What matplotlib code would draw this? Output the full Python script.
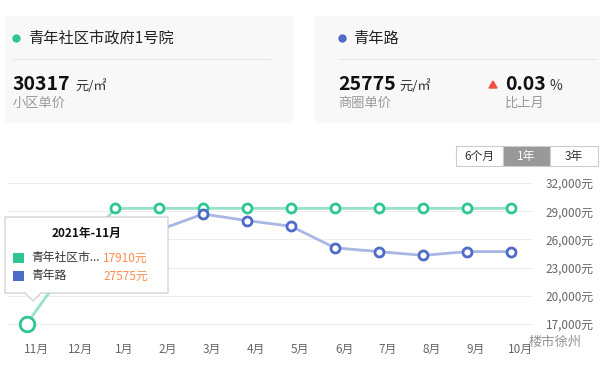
import matplotlib
matplotlib.use('Agg')
import matplotlib.pyplot as plt
import matplotlib.transforms as mtransforms
from matplotlib.patches import Rectangle, Polygon

plt.rcParams['font.family'] = ['Noto Sans CJK SC', 'DejaVu Sans']

# data
months = ['11月', '12月', '1月', '2月', '3月', '4月', '5月', '6月', '7月', '8月', '9月', '10月']
community = [17050, 23600, 29300, 29300, 29300, 29300, 29300, 29300, 29300, 29300, 29300, 29300]
district = [27575, 27200, 27000, 27000, 28700, 28000, 27400, 25100, 24700, 24300, 24700, 24700]
yticks = [17000, 20000, 23000, 26000, 29000, 32000]
ytick_labels = ['17,000元', '20,000元', '23,000元', '26,000元', '29,000元', '32,000元']
ranges = ['6个月', '1年', '3年']

GREEN = '#2ec793'
GREEN_L = '#98e3c6'
BLUE = '#4f6bc8'
BLUE_L = '#a9b6e6'

W, H = 608, 369
fig = plt.figure(figsize=(W / 100, H / 100), dpi=100)

def px(x, y):
    return x / W, 1 - y / H

def ftext(x, y, s, **kw):
    fig.text(x / W, 1 - y / H, s, **kw)

def fdot(x, y, c):
    fig.add_artist(plt.Line2D([x / W], [1 - y / H], marker='o', ms=5, color=c, ls='none', zorder=2))

# top cards
for x0, x1 in [(5, 293), (315, 600)]:
    fig.add_artist(Rectangle(px(x0, 123), (x1 - x0) / W, 107 / H, transform=fig.transFigure,
                             facecolor='#f8f8f8', edgecolor='none', zorder=0))

fdot(16, 38, GREEN)
ftext(28, 38, '青年社区市政府1号院', fontsize=11, color='#222', va='center')
fig.add_artist(plt.Line2D([13 / W, 270 / W], [1 - 59 / H] * 2, color='#e6e6e6', lw=0.8))
ftext(13, 84, '30317', fontsize=14, fontweight='bold', color='#111', va='center')
ftext(75, 86, '元/㎡', fontsize=9.5, color='#333', va='center')
ftext(13, 103, '小区单价', fontsize=9.5, color='#999', va='center')

fdot(342, 38, BLUE)
ftext(353, 38, '青年路', fontsize=11, color='#222', va='center')
fig.add_artist(plt.Line2D([338 / W, 595 / W], [1 - 59 / H] * 2, color='#e6e6e6', lw=0.8))
ftext(338, 84, '25775', fontsize=14, fontweight='bold', color='#111', va='center')
ftext(399, 86, '元/㎡', fontsize=9.5, color='#333', va='center')
ftext(338, 103, '商圈单价', fontsize=9.5, color='#999', va='center')
fig.add_artist(Polygon([px(489, 88), px(497, 88), px(493, 81)], closed=True,
                       transform=fig.transFigure, color='#f0523e'))
ftext(505, 84, '0.03', fontsize=14, fontweight='bold', color='#111', va='center')
ftext(550, 86, '%', fontsize=10, color='#333', va='center')
ftext(505, 103, '比上月', fontsize=9.5, color='#999', va='center')

# range buttons
bx = [456, 503, 550, 598]
for i, lab in enumerate(ranges):
    active = lab == '1年'
    fig.add_artist(Rectangle(px(bx[i], 166), (bx[i + 1] - bx[i]) / W, 20 / H, transform=fig.transFigure,
                             facecolor='#999999' if active else 'white', edgecolor='#cccccc', lw=0.8))
    ftext((bx[i] + bx[i + 1]) / 2, 156, lab, fontsize=8.5, ha='center', va='center',
          color='white' if active else '#333')

# chart
ax_l, ax_r, ax_t, ax_b = 8, 533, 170, 335
ax = fig.add_axes([ax_l / W, 1 - ax_b / H, (ax_r - ax_l) / W, (ax_b - ax_t) / H])
x = list(range(len(months)))
ax.plot(x, community, color=GREEN_L, lw=2, zorder=3)
ax.plot(x[1:], community[1:], ls='none', marker='o', ms=6.5, mfc='white', mec=GREEN, mew=2, zorder=4)
ax.plot(x[:1], community[:1], ls='none', marker='o', ms=10.5, mfc='white', mec=GREEN, mew=2, zorder=4)
ax.plot(x, district, color=BLUE_L, lw=2, zorder=3)
ax.plot(x, district, ls='none', marker='o', ms=6.5, mfc='white', mec=BLUE, mew=2, zorder=4)

ax.set_xlim(-(27 - ax_l) / 44, 11 + (ax_r - 511) / 44)
ppk = 141 / 15000
ax.set_ylim(17000 - (ax_b - 324) / ppk, 32000 + (183 - ax_t) / ppk)
ax.set_yticks(yticks)
ax.set_yticklabels(ytick_labels)
ax.yaxis.tick_right()
ax.set_xticks(x)
ax.set_xticklabels(months)
ax.tick_params(axis='y', length=0, pad=9, labelsize=8.5, labelcolor='#666')
ax.tick_params(axis='x', length=0, pad=6, labelsize=8.5, labelcolor='#666')
shift = mtransforms.ScaledTranslation(9 / 100, 0, fig.dpi_scale_trans)
for lab in ax.get_xticklabels():
    lab.set_transform(lab.get_transform() + shift)
ax.grid(axis='y', color='#eeeeee', lw=0.8)
ax.set_axisbelow(True)
for s in ax.spines.values():
    s.set_visible(False)
ax.patch.set_alpha(0)

# tooltip
fig.add_artist(Polygon([px(5, 217), px(168, 217), px(168, 293), px(41, 293), px(33, 301),
                        px(25, 293), px(5, 293)], closed=True, transform=fig.transFigure,
                       facecolor='white', edgecolor='#c8c8c8', lw=0.8, zorder=6))
ftext(87, 233, '2021年-11月', fontsize=8.5, fontweight='bold', color='#111', ha='center', va='center', zorder=7)
rows = [('青年社区市...', '17910元', GREEN), ('青年路', '27575元', BLUE)]
for i, (name, val, c) in enumerate(rows):
    yy = 258 + i * 18
    fig.add_artist(Rectangle(px(13, yy + 5), 11 / W, 10 / H, transform=fig.transFigure,
                             facecolor=c, edgecolor='none', zorder=7))
    ftext(31, yy, name, fontsize=8.5, color='#333', va='center', zorder=7)
    ftext(103, yy, val, fontsize=8.5, color='#ff8c4a', va='center', zorder=7)

# watermark
ftext(529, 342, '楼市徐州', fontsize=9.5, color='#888', va='center', alpha=0.9, zorder=8)

fig.savefig('out.png', dpi=100)
